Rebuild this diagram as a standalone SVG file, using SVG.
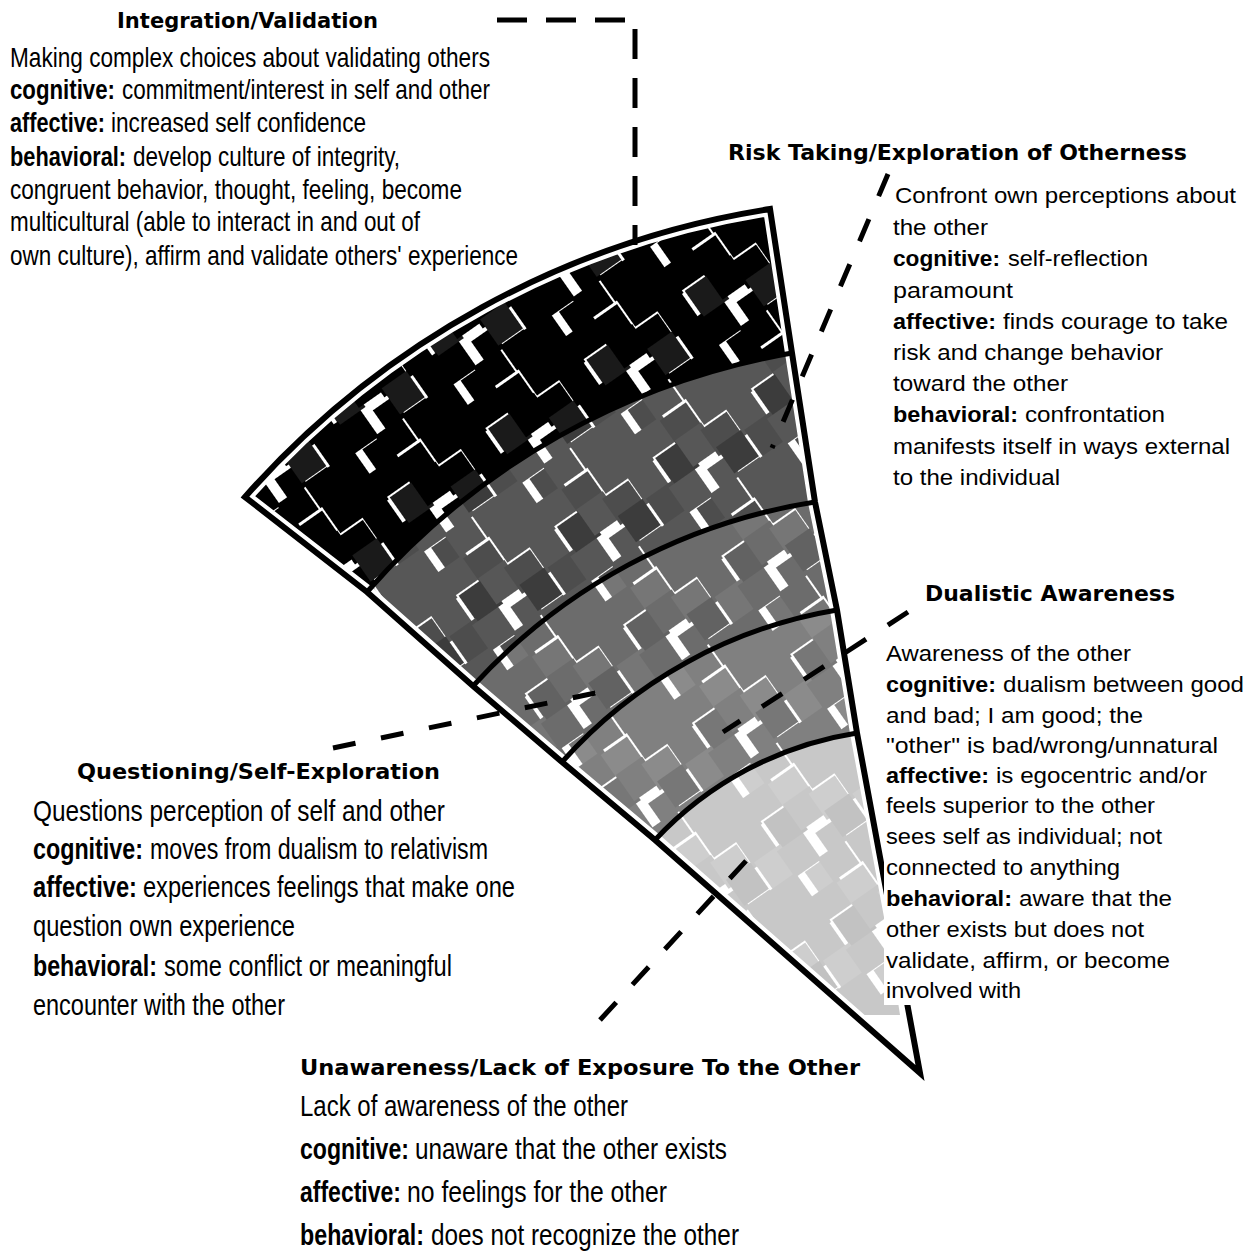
<svg xmlns="http://www.w3.org/2000/svg" width="1256" height="1252" viewBox="0 0 1256 1252">
<defs>
<style>
.t{font-family:"DejaVu Sans","Liberation Sans",sans-serif;font-weight:bold;font-size:21px;fill:#000}
.b{font-family:"Liberation Sans",Arial,sans-serif;fill:#000}
.k{font-weight:bold}
.dash{fill:none;stroke:#000;stroke-width:5}
.arc{fill:none;stroke:#000;stroke-width:5}
</style>
<pattern id="p0" patternUnits="userSpaceOnUse" width="120" height="120" patternTransform="rotate(-35)">
<rect x="0" y="0" width="32" height="32" fill="#000"/>
<rect x="32" y="-3" width="32" height="32" fill="#000"/>
<rect x="59" y="3" width="32" height="32" fill="#000"/>
<rect x="93" y="0" width="32" height="32" fill="#000"/>
<rect x="-2" y="32" width="32" height="32" fill="#000"/>
<rect x="34" y="31" width="32" height="32" fill="#1a1a1a"/>
<rect x="60" y="28" width="32" height="32" fill="#000"/>
<rect x="87" y="34" width="32" height="32" fill="#000"/>
<rect x="3" y="59" width="32" height="32" fill="#000"/>
<rect x="28" y="63" width="32" height="32" fill="#000"/>
<rect x="70" y="70" width="24" height="24" fill="#000"/>
<rect x="90" y="57" width="32" height="32" fill="#1a1a1a"/>
<rect x="-1" y="91" width="32" height="32" fill="#000"/>
<rect x="39" y="96" width="28" height="28" fill="#000"/>
<rect x="57" y="92" width="32" height="32" fill="#000"/>
<rect x="91" y="90" width="32" height="32" fill="#000"/>
</pattern>
<pattern id="p1" patternUnits="userSpaceOnUse" width="120" height="120" patternTransform="rotate(-35)">
<rect x="0" y="0" width="32" height="32" fill="#575757"/>
<rect x="32" y="-3" width="32" height="32" fill="#575757"/>
<rect x="59" y="3" width="32" height="32" fill="#4d4d4d"/>
<rect x="93" y="0" width="32" height="32" fill="#575757"/>
<rect x="-2" y="32" width="32" height="32" fill="#575757"/>
<rect x="34" y="31" width="32" height="32" fill="#3c3c3c"/>
<rect x="60" y="28" width="32" height="32" fill="#575757"/>
<rect x="87" y="34" width="32" height="32" fill="#4d4d4d"/>
<rect x="3" y="59" width="32" height="32" fill="#4d4d4d"/>
<rect x="28" y="63" width="32" height="32" fill="#575757"/>
<rect x="70" y="70" width="24" height="24" fill="#575757"/>
<rect x="90" y="57" width="32" height="32" fill="#3c3c3c"/>
<rect x="-1" y="91" width="32" height="32" fill="#575757"/>
<rect x="39" y="96" width="28" height="28" fill="#4d4d4d"/>
<rect x="57" y="92" width="32" height="32" fill="#575757"/>
<rect x="91" y="90" width="32" height="32" fill="#575757"/>
</pattern>
<pattern id="p2" patternUnits="userSpaceOnUse" width="120" height="120" patternTransform="rotate(-35)">
<rect x="0" y="0" width="32" height="32" fill="#6c6c6c"/>
<rect x="32" y="-3" width="32" height="32" fill="#6c6c6c"/>
<rect x="59" y="3" width="32" height="32" fill="#767676"/>
<rect x="93" y="0" width="32" height="32" fill="#6c6c6c"/>
<rect x="-2" y="32" width="32" height="32" fill="#6c6c6c"/>
<rect x="34" y="31" width="32" height="32" fill="#626262"/>
<rect x="60" y="28" width="32" height="32" fill="#6c6c6c"/>
<rect x="87" y="34" width="32" height="32" fill="#767676"/>
<rect x="3" y="59" width="32" height="32" fill="#767676"/>
<rect x="28" y="63" width="32" height="32" fill="#6c6c6c"/>
<rect x="70" y="70" width="24" height="24" fill="#6c6c6c"/>
<rect x="90" y="57" width="32" height="32" fill="#626262"/>
<rect x="-1" y="91" width="32" height="32" fill="#6c6c6c"/>
<rect x="39" y="96" width="28" height="28" fill="#767676"/>
<rect x="57" y="92" width="32" height="32" fill="#6c6c6c"/>
<rect x="91" y="90" width="32" height="32" fill="#6c6c6c"/>
</pattern>
<pattern id="p3" patternUnits="userSpaceOnUse" width="120" height="120" patternTransform="rotate(-35)">
<rect x="0" y="0" width="32" height="32" fill="#808080"/>
<rect x="32" y="-3" width="32" height="32" fill="#808080"/>
<rect x="59" y="3" width="32" height="32" fill="#8b8b8b"/>
<rect x="93" y="0" width="32" height="32" fill="#808080"/>
<rect x="-2" y="32" width="32" height="32" fill="#808080"/>
<rect x="34" y="31" width="32" height="32" fill="#777"/>
<rect x="60" y="28" width="32" height="32" fill="#808080"/>
<rect x="87" y="34" width="32" height="32" fill="#8b8b8b"/>
<rect x="3" y="59" width="32" height="32" fill="#8b8b8b"/>
<rect x="28" y="63" width="32" height="32" fill="#808080"/>
<rect x="70" y="70" width="24" height="24" fill="#808080"/>
<rect x="90" y="57" width="32" height="32" fill="#777"/>
<rect x="-1" y="91" width="32" height="32" fill="#808080"/>
<rect x="39" y="96" width="28" height="28" fill="#8b8b8b"/>
<rect x="57" y="92" width="32" height="32" fill="#808080"/>
<rect x="91" y="90" width="32" height="32" fill="#808080"/>
</pattern>
<pattern id="p4" patternUnits="userSpaceOnUse" width="120" height="120" patternTransform="rotate(-35)">
<rect x="0" y="0" width="32" height="32" fill="#c8c8c8"/>
<rect x="32" y="-3" width="32" height="32" fill="#c8c8c8"/>
<rect x="59" y="3" width="32" height="32" fill="#cecece"/>
<rect x="93" y="0" width="32" height="32" fill="#c8c8c8"/>
<rect x="-2" y="32" width="32" height="32" fill="#c8c8c8"/>
<rect x="34" y="31" width="32" height="32" fill="#c2c2c2"/>
<rect x="60" y="28" width="32" height="32" fill="#c8c8c8"/>
<rect x="87" y="34" width="32" height="32" fill="#cecece"/>
<rect x="3" y="59" width="32" height="32" fill="#cecece"/>
<rect x="28" y="63" width="32" height="32" fill="#c8c8c8"/>
<rect x="70" y="70" width="24" height="24" fill="#c8c8c8"/>
<rect x="90" y="57" width="32" height="32" fill="#c2c2c2"/>
<rect x="-1" y="91" width="32" height="32" fill="#c8c8c8"/>
<rect x="39" y="96" width="28" height="28" fill="#cecece"/>
<rect x="57" y="92" width="32" height="32" fill="#c8c8c8"/>
<rect x="91" y="90" width="32" height="32" fill="#c8c8c8"/>
</pattern>
<clipPath id="fanclip">
<path d="M245,497 A882,882 0 0 1 770,209 L792,353 L815,502 L837,610 L857,733 L920,1073 L655,840 L562,762 L473,686 L367,592 Z"/>
</clipPath>
</defs>
<rect width="1256" height="1252" fill="#fff"/>

<g id="fan">
<g clip-path="url(#fanclip)">
<path fill="url(#p0)" d="M245,497 A882,882 0 0 1 770,209 L792,353 A732,732 0 0 0 367,592 Z"/>
<path fill="url(#p1)" d="M367,592 A732,732 0 0 1 792,353 L815,502 A586,586 0 0 0 473,686 Z"/>
<path fill="url(#p2)" d="M473,686 A586,586 0 0 1 815,502 L837,610 A472,472 0 0 0 562,762 Z"/>
<path fill="url(#p3)" d="M562,762 A472,472 0 0 1 837,610 L857,733 A350,350 0 0 0 655,840 Z"/>
<path fill="url(#p4)" d="M655,840 A350,350 0 0 1 857,733 L900,1015 L852,1015 Z"/>
<path fill="none" stroke="#fff" stroke-width="14" d="M245,497 A882,882 0 0 1 770,209 L792,353 L815,502 L837,610 L857,733 L920,1073 L655,840 L562,762 L473,686 L367,592 Z"/>
</g>
<path class="arc" d="M367,592 A732,732 0 0 1 792,353"/>
<path class="arc" d="M473,686 A586,586 0 0 1 815,502"/>
<path class="arc" d="M562,762 A472,472 0 0 1 837,610"/>
<path class="arc" d="M655,840 A350,350 0 0 1 857,733"/>
<path fill="none" stroke="#000" stroke-width="6" stroke-linejoin="miter" d="M245,497 A882,882 0 0 1 770,209 L792,353 L815,502 L837,610 L857,733 L920,1073 L655,840 L562,762 L473,686 L367,592 Z"/>
</g>

<g id="connectors">
<path class="dash" stroke-dasharray="30 19" d="M497,20 H635 V245"/>
<path class="dash" stroke-dasharray="24 25" d="M888,174 L772,448"/>
<path class="dash" stroke-dasharray="24 26" d="M908,612 L723,732"/>
<path class="dash" stroke-dasharray="23 26" d="M333,748 L605,691"/>
<path class="dash" stroke-dasharray="24 24" d="M600,1020 L756,850"/>
</g>

<g id="integration">
<text class="t" x="117" y="28" textLength="261" lengthAdjust="spacingAndGlyphs">Integration/Validation</text>
<g class="b" font-size="27" transform="translate(1.8,0) scale(0.82,1)">
<text x="10" y="67" textLength="585.4" lengthAdjust="spacingAndGlyphs">Making complex choices about validating others</text>
<text class="k" x="10" y="99" textLength="128" lengthAdjust="spacingAndGlyphs">cognitive:</text>
<text x="146.6" y="99" textLength="448.8" lengthAdjust="spacingAndGlyphs">commitment/interest in self and other</text>
<text class="k" x="10" y="132" textLength="115.9" lengthAdjust="spacingAndGlyphs">affective:</text>
<text x="133.2" y="132" textLength="311" lengthAdjust="spacingAndGlyphs">increased self confidence</text>
<text class="k" x="10" y="166" textLength="141.5" lengthAdjust="spacingAndGlyphs">behavioral:</text>
<text x="160" y="166" textLength="325.6" lengthAdjust="spacingAndGlyphs">develop culture of integrity,</text>
<text x="10" y="199" textLength="551.2" lengthAdjust="spacingAndGlyphs">congruent behavior, thought, feeling, become</text>
<text x="10" y="231" textLength="500" lengthAdjust="spacingAndGlyphs">multicultural (able to interact in and out of</text>
<text x="10" y="265" textLength="619.5" lengthAdjust="spacingAndGlyphs">own culture), affirm and validate others' experience</text>
</g>
</g>

<g id="risk-taking">
<text class="t" x="728" y="160" font-size="22" textLength="459" lengthAdjust="spacingAndGlyphs">Risk Taking/Exploration of Otherness</text>
<g class="b" font-size="22">
<text x="895" y="203" textLength="341" lengthAdjust="spacingAndGlyphs">Confront own perceptions about</text>
<text x="893" y="235" textLength="95" lengthAdjust="spacingAndGlyphs">the other</text>
<text class="k" x="893" y="266" textLength="107" lengthAdjust="spacingAndGlyphs">cognitive:</text>
<text x="1008" y="266" textLength="140" lengthAdjust="spacingAndGlyphs">self-reflection</text>
<text x="893" y="298" textLength="120" lengthAdjust="spacingAndGlyphs">paramount</text>
<text class="k" x="893" y="329" textLength="103" lengthAdjust="spacingAndGlyphs">affective:</text>
<text x="1003" y="329" textLength="225" lengthAdjust="spacingAndGlyphs">finds courage to take</text>
<text x="893" y="360" textLength="270" lengthAdjust="spacingAndGlyphs">risk and change behavior</text>
<text x="893" y="391" textLength="175" lengthAdjust="spacingAndGlyphs">toward the other</text>
<text class="k" x="893" y="422" textLength="125" lengthAdjust="spacingAndGlyphs">behavioral:</text>
<text x="1025" y="422" textLength="140" lengthAdjust="spacingAndGlyphs">confrontation</text>
<text x="893" y="454" textLength="337" lengthAdjust="spacingAndGlyphs">manifests itself in ways external</text>
<text x="893" y="485" textLength="167" lengthAdjust="spacingAndGlyphs">to the individual</text>
</g>
</g>

<g id="dualistic-awareness">
<rect x="884" y="640" width="372" height="365" fill="#fff"/>
<text class="t" x="925" y="601" font-size="22" textLength="250" lengthAdjust="spacingAndGlyphs">Dualistic Awareness</text>
<g class="b" font-size="22">
<text x="886" y="661" textLength="245" lengthAdjust="spacingAndGlyphs">Awareness of the other</text>
<text class="k" x="886" y="692" textLength="110" lengthAdjust="spacingAndGlyphs">cognitive:</text>
<text x="1003" y="692" textLength="241" lengthAdjust="spacingAndGlyphs">dualism between good</text>
<text x="886" y="723" textLength="257" lengthAdjust="spacingAndGlyphs">and bad; I am good; the</text>
<text x="886" y="753" textLength="332" lengthAdjust="spacingAndGlyphs">"other" is bad/wrong/unnatural</text>
<text class="k" x="886" y="783" textLength="103" lengthAdjust="spacingAndGlyphs">affective:</text>
<text x="996" y="783" textLength="211" lengthAdjust="spacingAndGlyphs">is egocentric and/or</text>
<text x="886" y="813" textLength="269" lengthAdjust="spacingAndGlyphs">feels superior to the other</text>
<text x="886" y="844" textLength="276" lengthAdjust="spacingAndGlyphs">sees self as individual; not</text>
<text x="886" y="875" textLength="234" lengthAdjust="spacingAndGlyphs">connected to anything</text>
<text class="k" x="886" y="906" textLength="126" lengthAdjust="spacingAndGlyphs">behavioral:</text>
<text x="1019" y="906" textLength="153" lengthAdjust="spacingAndGlyphs">aware that the</text>
<text x="886" y="937" textLength="258" lengthAdjust="spacingAndGlyphs">other exists but does not</text>
<text x="886" y="968" textLength="284" lengthAdjust="spacingAndGlyphs">validate, affirm, or become</text>
<text x="886" y="998" textLength="135" lengthAdjust="spacingAndGlyphs">involved with</text>
</g>
</g>

<g id="questioning">
<text class="t" x="77" y="779" font-size="22" textLength="363" lengthAdjust="spacingAndGlyphs">Questioning/Self-Exploration</text>
<g class="b" font-size="29" transform="translate(5.94,0) scale(0.82,1)">
<text x="33" y="821" textLength="502.4" lengthAdjust="spacingAndGlyphs">Questions perception of self and other</text>
<text class="k" x="33" y="859" textLength="134.1" lengthAdjust="spacingAndGlyphs">cognitive:</text>
<text x="175.7" y="859" textLength="412.2" lengthAdjust="spacingAndGlyphs">moves from dualism to relativism</text>
<text class="k" x="33" y="897" textLength="126.8" lengthAdjust="spacingAndGlyphs">affective:</text>
<text x="167.1" y="897" textLength="453.7" lengthAdjust="spacingAndGlyphs">experiences feelings that make one</text>
<text x="33" y="936" textLength="319.5" lengthAdjust="spacingAndGlyphs">question own experience</text>
<text class="k" x="33" y="976" textLength="151.2" lengthAdjust="spacingAndGlyphs">behavioral:</text>
<text x="192.8" y="976" textLength="351.2" lengthAdjust="spacingAndGlyphs">some conflict or meaningful</text>
<text x="33" y="1015" textLength="307.3" lengthAdjust="spacingAndGlyphs">encounter with the other</text>
</g>
</g>

<g id="unawareness">
<text class="t" x="300" y="1075" font-size="23" textLength="560" lengthAdjust="spacingAndGlyphs">Unawareness/Lack of Exposure To the Other</text>
<g class="b" font-size="30" transform="translate(66,0) scale(0.78,1)">
<text x="300" y="1116" textLength="420.5" lengthAdjust="spacingAndGlyphs">Lack of awareness of the other</text>
<text class="k" x="300" y="1159" textLength="139.7" lengthAdjust="spacingAndGlyphs">cognitive:</text>
<text x="447.4" y="1159" textLength="400" lengthAdjust="spacingAndGlyphs">unaware that the other exists</text>
<text class="k" x="300" y="1202" textLength="129.5" lengthAdjust="spacingAndGlyphs">affective:</text>
<text x="437.2" y="1202" textLength="333.3" lengthAdjust="spacingAndGlyphs">no feelings for the other</text>
<text class="k" x="300" y="1245" textLength="159" lengthAdjust="spacingAndGlyphs">behavioral:</text>
<text x="467.9" y="1245" textLength="394.9" lengthAdjust="spacingAndGlyphs">does not recognize the other</text>
</g>
</g>
</svg>
